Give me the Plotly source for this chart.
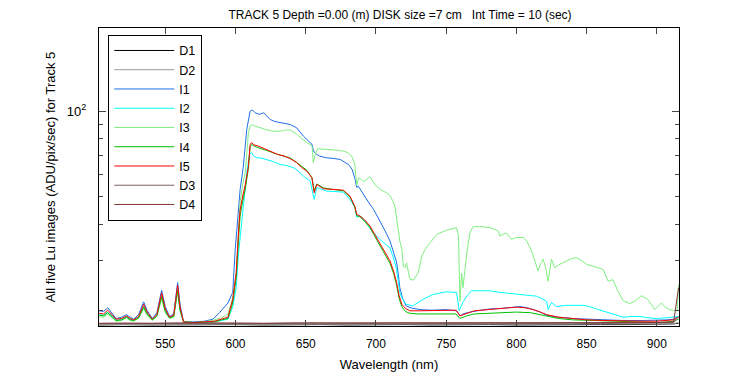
import plotly.graph_objects as go
import math

# ---------------- data ----------------
dark_wl = [503, 520, 540, 560, 580, 600, 620, 640, 660, 680, 700, 720, 740, 760,
           780, 800, 820, 840, 860, 880, 900, 912, 915.5]
d1_val = [17.75, 17.8, 17.75, 17.8, 17.8, 17.8, 17.75, 17.8, 17.8, 17.75, 17.8, 17.8,
          17.75, 17.8, 17.8, 17.75, 17.8, 17.8, 17.8, 17.8, 17.85, 17.9, 18.0]
d2_val = [17.8, 17.85, 17.8, 17.85, 17.85, 17.85, 17.8, 17.85, 17.85, 17.8, 17.85, 17.85,
          17.8, 17.85, 17.85, 17.8, 17.85, 17.85, 17.85, 17.85, 17.9, 17.95, 18.1]
d3_val = [17.95, 18.0, 17.95, 18.0, 17.95, 18.0, 17.95, 18.0, 18.0, 17.95, 18.0, 18.0,
          17.95, 18.0, 18.0, 17.95, 18.0, 18.0, 17.95, 18.0, 18.05, 18.1, 19.0]
d4_val = [18.0, 18.05, 18.0, 18.05, 18.0, 18.05, 18.0, 18.05, 18.05, 18.0, 18.05, 18.05,
          18.0, 18.05, 18.05, 18.0, 18.05, 18.05, 18.0, 18.05, 18.1, 18.2, 24.0]

i1_wl = [503, 506, 509, 512, 515, 519, 522.3, 525, 527.5, 531, 534.6, 537, 540.8, 544,
         547.4, 550, 553, 556, 558.8, 560.5, 563, 570, 578, 584, 588.6, 594.6, 598, 599.8,
         601, 603.3, 605.6, 608, 610.4, 612, 614, 617, 620, 624.8, 628, 631.8, 635, 639,
         643.6, 648.4, 652, 654.5, 655.5, 657, 660, 665, 670, 674.5, 680.4, 683, 685.2,
         686.3, 687.5, 691, 695.8, 698, 703, 706.5, 710, 712.5, 714.7, 716, 717, 719,
         721.5, 726, 731.5, 740, 750, 757.5, 760, 762, 765, 772, 781, 790, 797, 802.5,
         808, 812, 817, 821.5, 830, 840, 850, 862, 876, 890, 900, 908, 912, 915.5]
i1_val = [19.9, 19.8, 20.4, 19.6, 18.7, 18.9, 19.3, 18.9, 18.6, 19.3, 21.4, 20.0, 18.7, 19.6,
          23.5, 20.6, 19.0, 19.4, 25.0, 21.0, 18.2, 18.2, 18.3, 18.6, 19.6, 21.2, 23.1, 32.7,
          38.5, 53.1, 64.1, 86.3, 100.0, 101.0, 98.7, 97.5, 98.7, 93.5, 92.0, 91.1, 90.5, 89.8,
          87.4, 81.7, 78.5, 76.5, 72.5, 71.0, 69.5, 68.6, 68.2, 67.7, 65.0, 62.5, 57.6,
          54.0, 54.5, 51.0, 47.0, 45.5, 41.1, 38.0, 35.0, 32.0, 29.5, 26.5, 24.0, 22.0,
          20.7, 20.3, 20.1, 20.0, 20.1, 19.9, 19.1, 19.4, 19.6, 19.9, 20.2, 20.3, 20.4, 20.6,
          20.4, 20.1, 19.7, 19.2, 18.9, 18.7, 18.6, 18.5, 18.4, 18.4, 18.4, 18.5, 18.6, 19.0]

i2_wl = [503, 506, 509, 512, 515, 519, 522.3, 525, 527.5, 531, 534.6, 537, 540.8, 544,
         547.4, 550, 553, 556, 558.8, 560.5, 563, 570, 578, 585, 590, 594.6, 598, 600.5,
         602, 603.5, 605.6, 608, 609.9, 611.5, 613, 615.1, 618, 622.3, 627, 631.8, 636,
         641.3, 645, 648.4, 653.2, 656, 657.9, 665, 670, 676.8, 681.5, 685, 686.3, 688.7,
         693.3, 697, 703, 706.5, 710, 712.5, 714.7, 717, 719, 721.5, 726.2, 733.3, 740.4,
         749.9, 757.4, 759.3, 762, 765, 768, 774, 781, 788.3, 795, 802.5, 808, 814.3, 818,
         821.5, 822.6, 825, 828.5, 835, 847.5, 852, 857, 866, 876, 882, 888, 894, 900, 906,
         912, 915.5]
i2_val = [19.3, 19.2, 19.7, 19.1, 18.4, 18.6, 19.0, 18.6, 18.4, 18.9, 20.6, 19.5, 18.5, 19.2,
          22.5, 19.9, 18.8, 19.1, 23.6, 20.1, 18.2, 18.1, 18.2, 18.2, 18.4, 18.6, 20.5, 24.0,
          31.0, 37.0, 46.0, 60.8, 70.5, 71.5, 69.5, 68.6, 68.5, 67.7, 66.5, 65.0, 64.5,
          63.3, 61.5, 59.1, 56.8, 49.0, 53.9, 52.4, 52.2, 52.0, 49.0, 46.0, 42.5, 43.0,
          40.5, 38.0, 35.4, 34.3, 33.1, 30.5, 27.8, 23.1, 21.8, 21.0, 20.7, 21.8, 22.7,
          23.2, 23.1, 19.9, 21.4, 22.5, 23.4, 23.4, 23.4, 23.1, 22.9, 22.7, 22.6, 22.4, 22.0,
          21.5, 20.1, 21.3, 20.6, 20.8, 20.8, 20.6, 20.2, 19.6, 18.9, 19.0, 19.0, 18.8, 18.7, 18.8,
          18.9, 19.0]

i3_wl = [503, 506, 509, 512, 515, 519, 522.3, 525, 527.5, 531, 534.6, 537, 540.8, 544,
         547.4, 550, 553, 556, 558.8, 560.5, 563, 570, 578, 585, 590, 594.6, 598, 600.5,
         602, 603.3, 605, 606.9, 608.2, 609.2, 610.4, 612, 614, 617.5, 622.3, 627, 631.8,
         635, 638.9, 643.6, 647.2, 650.8, 653.1, 654.5, 655.4, 656.5, 658.3, 662, 667.4,
         672, 676.8, 680, 682.8, 685, 686.3, 688, 691, 693.3, 695.8, 698.1, 699.2, 703,
         707.5, 710, 712.4, 713.6, 715.8, 717, 718.4, 719.5, 720.6, 721.8, 724.2, 726.6,
         730.2, 732.6, 735.5, 738.4, 743.2, 750.3, 757.4, 758.8, 759.8, 761, 762, 763.5,
         765, 767, 769.2, 775, 781.2, 785, 787.1, 788.3, 790.5, 793, 796.5, 800, 805, 807.3,
         810, 812, 815.5, 817, 819, 821, 822.6, 825, 827.3, 831, 835.7, 839, 842.8, 846,
         849.9, 854.6, 858, 861.7, 865.3, 868.8, 872, 876, 880.7, 885, 889, 893.7, 898.5,
         903.3, 906, 909, 913, 914.5, 915.5]
i3_val = [19.0, 18.9, 19.4, 18.8, 18.3, 18.4, 18.8, 18.4, 18.3, 18.7, 20.2, 19.2, 18.4, 19.0,
          22.0, 19.6, 18.7, 18.9, 23.2, 19.9, 18.2, 18.1, 18.2, 18.5, 18.8, 19.4, 22.0, 27.0,
          36.0, 48.0, 55.0, 60.8, 72.0, 84.0, 88.6, 89.5, 88.6, 87.4, 86.0, 85.0, 85.1,
          85.8, 86.0, 83.0, 80.0, 77.5, 76.4, 75.5, 66.0, 70.0, 73.8, 73.6, 73.4,
          73.0, 72.4, 71.5, 69.5, 65.0, 55.0, 58.5, 56.5, 57.6, 58.8, 56.5, 55.3, 53.1,
          51.7, 50.5, 48.0, 45.9, 38.5, 35.0, 33.0, 28.6, 28.2, 29.3, 25.7, 25.5,
          27.1, 31.0, 33.0, 34.5, 36.9, 38.2, 39.0, 36.4, 21.5, 27.0, 24.0, 28.0,
          32.5, 37.5, 39.3, 39.3, 39.0, 38.4, 37.9, 36.4, 37.0, 37.3, 35.5, 36.0, 36.0, 35.0,
          33.0, 31.0, 27.5, 29.0, 30.2, 28.0, 25.3, 30.2, 28.2, 29.0, 29.8, 30.3, 30.6, 30.0,
          29.0, 28.6, 28.2, 27.8, 25.3, 25.6, 23.5, 21.6, 21.1, 21.6, 22.5, 21.8, 20.1,
          21.2, 20.5, 20.1, 19.9, 19.9, 24.6]

i4_wl = [503, 506, 509, 512, 515, 519, 522.3, 525, 527.5, 531, 534.6, 537, 540.8, 544,
         547.4, 550, 553, 556, 558.8, 560.5, 563, 570, 578, 585, 590, 594.6, 598, 600.5,
         602.4, 603.3, 605, 606.9, 609.2, 610.4, 611.5, 613, 616, 620, 625, 630, 635, 639,
         643.7, 647, 650.8, 654.4, 656, 657.9, 662.6, 667.4, 672, 676.8, 681.5, 685, 686.3,
         688.7, 692, 695.8, 699, 703, 706.5, 710, 712.5, 714.7, 716.5, 718.4, 721, 724.2,
         730, 738.4, 750, 757, 759.8, 764.5, 770, 780, 788.3, 800, 810, 816, 821.5, 830,
         840, 852, 864, 876, 890, 900, 908, 912, 915.5]
i4_val = [19.2, 19.1, 19.6, 19.0, 18.4, 18.5, 18.9, 18.5, 18.4, 18.8, 20.5, 19.4, 18.5, 19.1,
          22.3, 19.8, 18.8, 19.0, 23.5, 20.0, 18.2, 18.1, 18.1, 18.2, 18.5, 18.7, 21.2, 26.0,
          37.0, 43.0, 48.0, 53.0, 63.0, 75.0, 76.5, 75.5, 74.5, 73.5, 72.0, 70.5, 69.5, 68.5,
          66.0, 64.0, 62.0, 58.5, 52.5, 55.5, 53.8, 53.3, 53.0, 52.5, 50.0, 46.0, 43.0,
          42.5, 41.0, 39.0, 36.5, 33.8, 31.5, 29.2, 27.0, 24.5, 22.0, 20.6, 19.8, 19.5,
          19.4, 19.4, 19.4, 19.4, 18.7, 19.1, 19.4, 19.5, 19.6, 19.7, 19.6, 19.3, 19.0, 18.7,
          18.5, 18.4, 18.3, 18.2, 18.1, 18.1, 18.2, 18.3, 18.6]

i5_wl = [503, 506, 509, 512, 515, 519, 522.3, 525, 527.5, 531, 534.6, 537, 540.8, 544,
         547.4, 550, 553, 556, 558.8, 560.5, 563, 570, 578, 585, 590, 594.6, 598, 600.5,
         602.4, 603.3, 605, 606.9, 609.2, 610.4, 611.5, 613, 616, 620, 625, 630, 635, 639,
         643.7, 647, 650.8, 654.4, 656, 657.9, 662.6, 667.4, 672, 676.8, 681.5, 685, 686.3,
         688.7, 692, 695.8, 699, 703, 706.5, 710, 712.5, 714.7, 716.5, 718.4, 721, 724.2,
         730, 738.4, 750, 757, 759.8, 764.5, 770, 780, 788.3, 800, 806, 812, 817, 821.5,
         830, 840, 850, 862, 876, 890, 900, 908, 912, 915.5]
i5_val = [19.5, 19.4, 20.0, 19.3, 18.6, 18.7, 19.1, 18.7, 18.5, 19.0, 21.0, 19.7, 18.6, 19.3,
          23.0, 20.2, 18.9, 19.2, 24.5, 20.5, 18.2, 18.1, 18.2, 18.3, 18.6, 18.9, 21.8, 27.1,
          39.5, 45.0, 50.0, 55.0, 64.0, 76.4, 77.5, 76.2, 75.5, 74.0, 72.0, 70.5, 69.5, 68.1,
          65.9, 63.5, 61.6, 58.4, 51.7, 55.3, 53.4, 53.1, 53.0, 52.8, 50.3, 46.3, 43.4,
          42.8, 41.5, 39.5, 37.0, 34.3, 32.0, 29.8, 27.5, 25.0, 22.5, 21.0, 20.3, 19.9,
          19.9, 19.9, 20.0, 20.0, 19.1, 19.5, 19.9, 20.1, 20.3, 20.5, 20.4, 20.1, 19.7, 19.3,
          18.9, 18.7, 18.5, 18.4, 18.3, 18.3, 18.3, 18.4, 18.5, 18.9]

series_names = ["D1", "D2", "I1", "I2", "I3", "I4", "I5", "D3", "D4"]
series_colors = ["#000000", "#999999", "#1f6fe8", "#00ffff", "#80f080",
                 "#00c000", "#ff0000", "#7f5f5f", "#7f3535"]

title_text = "TRACK 5 Depth =0.00 (m) DISK size =7 cm\u00a0\u00a0\u00a0Int Time = 10 (sec)"
x_label = "Wavelength (nm)"
y_label = "All five Lu images (ADU/pix/sec) for Track 5"
x_ticks = [550, 600, 650, 700, 750, 800, 850, 900]
y_major = [100]
y_major_text = ["10<sup>2</sup>"]
y_minor = [20, 30, 40, 50, 60, 70, 80, 90]
x_range = [502.8, 915.8]
y_range = [17.6, 196]

# ---------------- figure ----------------
data_pairs = [(dark_wl, d1_val), (dark_wl, d2_val), (i1_wl, i1_val), (i2_wl, i2_val),
              (i3_wl, i3_val), (i4_wl, i4_val), (i5_wl, i5_val), (dark_wl, d3_val),
              (dark_wl, d4_val)]

FONT = "Liberation Sans, Arial, Helvetica, sans-serif"
W, H = 742, 367  # page body has an 8px offset; figure sized to fill the window
fig = go.Figure()
for (wl, val), name, color in zip(data_pairs, series_names, series_colors):
    fig.add_trace(go.Scatter(x=wl, y=val, mode="lines", name=name,
                             line=dict(color=color, width=1)))

fig.update_layout(
    width=W, height=H,
    margin=dict(l=91, r=71, t=20, b=49),
    paper_bgcolor="white", plot_bgcolor="white",
    font=dict(family=FONT, size=12, color="black"),
    title=dict(text=title_text, x=392 / W, xref="container", y=1 - 7 / H, yref="container",
               xanchor="center", yanchor="middle", font=dict(size=12)),
    showlegend=True,
    legend=dict(x=0.016, y=0.977, xanchor="left", yanchor="top",
                bgcolor="white", bordercolor="black", borderwidth=1,
                font=dict(size=12.5), itemwidth=60, tracegroupgap=0),
)
fig.update_xaxes(range=x_range, tickvals=x_ticks, ticks="inside", ticklen=6,
                 showline=True, linecolor="black", linewidth=1, mirror="ticks",
                 showgrid=False, zeroline=False, automargin=False, ticklabelstandoff=7,
                 title=dict(text=x_label, font=dict(size=13), standoff=9))
fig.update_yaxes(type="log", range=[math.log10(y_range[0]), math.log10(y_range[1])],
                 tickvals=y_major, ticktext=y_major_text, ticks="inside", ticklen=7,
                 tickfont=dict(size=13),
                 showline=True, linecolor="black", linewidth=1, mirror="ticks",
                 showgrid=False, zeroline=False, automargin=False, ticklabelstandoff=9,
                 minor=dict(tickvals=y_minor, ticks="inside", ticklen=4, showgrid=False),
                 title=dict(text=y_label, font=dict(size=13), standoff=8))

fig.write_html("out.html")
